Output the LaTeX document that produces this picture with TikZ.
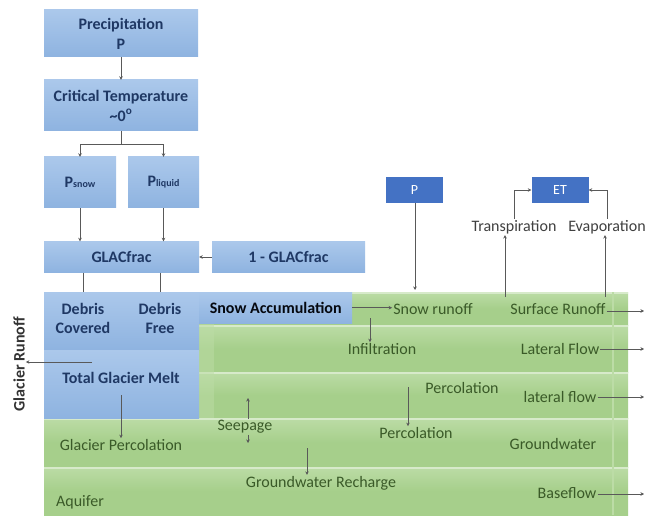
\documentclass[tikz,border=0pt]{standalone}
\usepackage{fontspec}
\setmainfont{Carlito}
\usetikzlibrary{arrows.meta}
\definecolor{blueT}{HTML}{ABC8EB}
\definecolor{blueB}{HTML}{8EB3E0}
\definecolor{navy}{HTML}{1F3864}
\definecolor{pblue}{HTML}{4472C4}
\definecolor{greenM}{HTML}{A6CF8B}
\definecolor{greenL}{HTML}{BCDCA6}
\definecolor{gtext}{HTML}{3A5A28}
\definecolor{linec}{HTML}{595959}
\begin{document}
\begin{tikzpicture}[x=1pt,y=-1pt,
  bbox/.style={top color=blueT, bottom color=blueB, draw=none, text=navy,
    font=\fontsize{16}{20}\selectfont\bfseries, align=center, inner sep=0pt},
  btext/.style={text=navy, font=\fontsize{16}{19}\selectfont\bfseries, align=center, inner sep=1pt},
  gtxt/.style={text=gtext, font=\fontsize{16}{18}\selectfont, inner sep=1pt},
  gytxt/.style={text=black!75, font=\fontsize{16}{18}\selectfont, inner sep=1pt},
  dbox/.style={fill=pblue, draw=none, text=white, font=\fontsize{14}{16}\selectfont,
    minimum width=57pt, minimum height=26pt, inner sep=0pt},
  conn/.style={draw=linec, line width=0.6pt},
  arr/.style={conn, -{Stealth[length=3.5pt,width=3.5pt]}}
]
\useasboundingbox (0,0) rectangle (646,516);
\fill[white] (0,0) rectangle (646,516);

% top flow boxes
\node[bbox, minimum width=154pt, minimum height=47pt] (prec) at (121,33.5) {Precipitation\\P};
\node[bbox, minimum width=154pt, minimum height=51pt] (crit) at (121,105.5) {Critical Temperature\\\textasciitilde0\textsuperscript{o}};
\node[bbox, minimum width=72pt, minimum height=51pt] (psnow) at (80,182.5) {P{\fontsize{10}{10}\selectfont snow}};
\node[bbox, minimum width=71pt, minimum height=51pt] (pliq) at (163.5,182.5) {P{\fontsize{10}{10}\selectfont liquid}};
\node[bbox, minimum width=155pt, minimum height=31pt] (glac) at (121.5,257) {GLACfrac};
\node[bbox, minimum width=153pt, minimum height=31pt] (oneg) at (288.5,257) {1 - GLACfrac};

\draw[arr] (prec.south) -- (crit.north);
\coordinate (split) at (121,144);
\draw[conn] (crit.south) -- (split);
\draw[arr] (split) -| (psnow.north);
\draw[arr] (split) -| (pliq.north);
\draw[arr] (psnow.south) -- (psnow.south |- glac.north);
\draw[arr] (pliq.south) -- (pliq.south |- glac.north);
\draw[arr] (oneg.west) -- (glac.east);

% green bands
\foreach \ya/\yb in {292/325,325/372,372/418,418/467,467/515}{
  \shade[top color=greenL, bottom color=greenM, middle color=greenM] (44,\ya) rectangle (628,\yb);
  \fill[greenL!60!white] (44,\ya) rectangle (628,\ya+1.5);
}
\fill[greenL] (612,292) rectangle (614,515);
\fill[greenL, opacity=0.5] (199,323) rectangle (214,418);

% blue glacier region
\node[bbox, minimum width=78pt, minimum height=58pt, anchor=north west] (dc) at (44,292) {};
\node[bbox, minimum width=77pt, minimum height=58pt, anchor=north west] (df) at (122,292) {};
\node[bbox, minimum width=155pt, minimum height=68pt, anchor=north west] (melt) at (44,350) {};
\node[bbox, minimum width=153pt, minimum height=31pt, anchor=north west, text=black!85!navy] (sa) at (199,292) {Snow Accumulation};
\node[btext] (dct) at (83,318) {Debris\\Covered};
\node[btext] (dft) at (160,318) {Debris\\Free};
\node[btext] (tgm) at (121,378) {Total Glacier Melt};

\draw[conn] (glac.south -| dct.north) -- (dc.north -| dct.north);
\draw[conn] (glac.south -| dft.north) -- (df.north -| dft.north);

% glacier runoff
\node[btext, text=black!80, rotate=90] (runoff) at (19,364) {Glacier Runoff};
\coordinate (gr0) at (92,362);
\draw[arr] (gr0) -- (gr0 -| runoff.south);

% green labels
\node[gtxt] (gp) at (121,445) {Glacier Percolation};
\node[gtxt] (seep) at (245,427) {Seepage};
\node[gtxt] (aq) at (80,502) {Aquifer};
\node[gtxt] (gwr) at (321,483) {Groundwater Recharge};
\node[gtxt] (sr) at (433,309) {Snow runoff};
\node[gtxt] (surf) at (558,309) {Surface Runoff};
\node[gtxt] (inf) at (382,349) {Infiltration};
\node[gtxt] (lf) at (560,349) {Lateral Flow};
\node[gtxt] (perc1) at (462,388) {Percolation};
\node[gtxt] (lf2) at (560,397) {lateral flow};
\node[gtxt] (perc2) at (416,433) {Percolation};
\node[gtxt] (gw) at (553,444) {Groundwater};
\node[gtxt] (bf) at (567,493) {Baseflow};

\coordinate (m0) at (121,395);
\draw[arr] (m0) -- (m0 |- gp.north);
\coordinate (s1) at (248,398);
\coordinate (s2) at (248,443);
\draw[arr] (seep.north -| s1) -- (s1);
\draw[arr] (seep.south -| s2) -- (s2);
\coordinate (r0) at (307,448);
\draw[arr] (r0) -- (r0 |- gwr.north);
\draw[arr] (sa.east) -- (sa.east -| sr.west);
\coordinate (i0) at (370,318);
\draw[arr] (i0) -- (i0 |- inf.north);
\coordinate (p0) at (408,387);
\draw[arr] (p0) -- (p0 |- perc2.north);

\coordinate (o1) at (644,311);
\coordinate (o2) at (644,349);
\coordinate (o3) at (644,397);
\coordinate (o4) at (644,494);
\draw[arr] (surf.east |- o1) -- (o1);
\draw[arr] (lf.east |- o2) -- (o2);
\draw[arr] (lf2.east |- o3) -- (o3);
\draw[arr] (bf.east |- o4) -- (o4);

% top right
\node[dbox] (pbox) at (414.5,190) {P};
\node[dbox] (et) at (560,190) {ET};
\node[gytxt] (tr) at (514,227) {Transpiration};
\node[gytxt] (ev) at (607,227) {Evaporation};
\coordinate (pin) at (415,290);
\draw[arr] (pbox.south -| pin) -- (pin);
\coordinate (t0) at (505,297);
\coordinate (e0) at (605,297);
\draw[arr] (t0) -- (t0 |- tr.south);
\draw[arr] (e0) -- (e0 |- ev.south);
\draw[arr] (tr.north) |- (et.west);
\draw[arr] (ev.north) |- (et.east);
\end{tikzpicture}
\end{document}
